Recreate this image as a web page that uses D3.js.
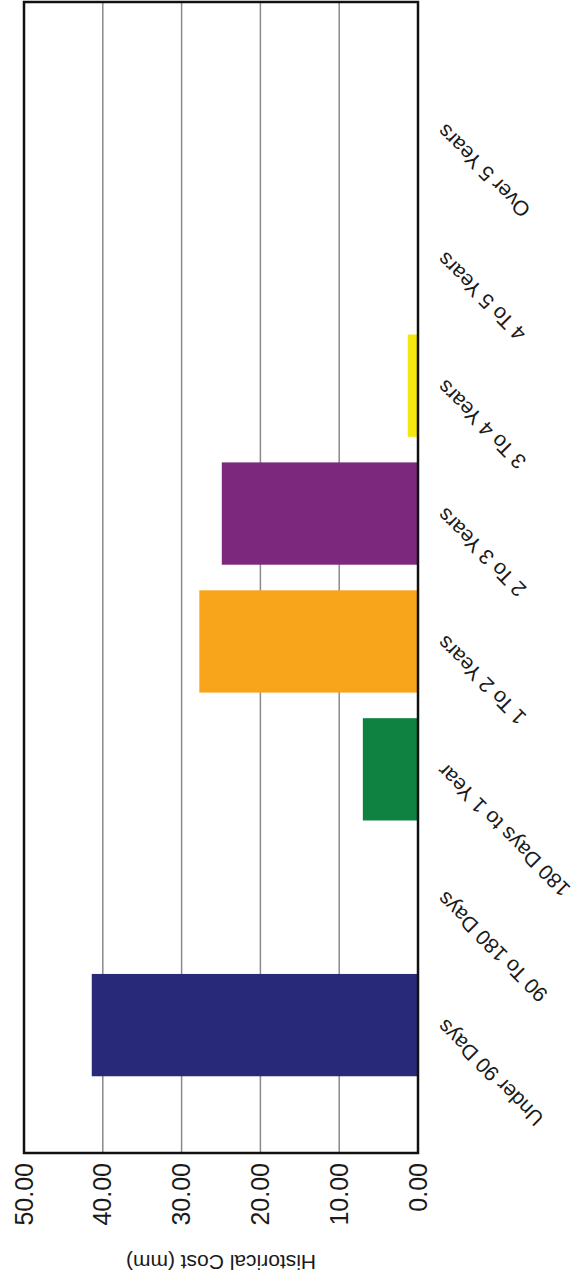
<!DOCTYPE html>
<html>
<head>
<meta charset="utf-8">
<script src="https://cdn.jsdelivr.net/npm/d3@7"></script>
<style>
  html, body { margin: 0; padding: 0; background: #fff; }
  svg { display: block; }
  text { font-family: "Liberation Sans", Arial, Helvetica, sans-serif; fill: #1a1a1a; }
</style>
</head>
<body>
<svg id="chart" width="576" height="1281"></svg>
<script>
// Aging buckets and their historical cost (mm)
const categories = [
  "Under 90 Days", "90 To 180 Days", "180 Days to 1 Year", "1 To 2 Years",
  "2 To 3 Years", "3 To 4 Years", "4 To 5 Years", "Over 5 Years"
];
const values = [41.4, 0, 7.0, 27.75, 24.9, 1.3, 0, 0];
const barColors = [
  "#29297a", "#29297a", "#0f8242", "#f8a51c",
  "#7b287d", "#f4e611", "#999999", "#999999"
];
const yTicks = [0, 10, 20, 30, 40, 50];
const axisTitle = "Historical Cost (mm)";

// The column chart is laid out in its own 1281 x 576 frame,
// then turned a quarter turn counter-clockwise onto the page.
const W = 1281, H = 576;
const margin = { top: 24, right: 2, bottom: 158, left: 128 };

const svg = d3.select("#chart");
const g = svg.append("g").attr("transform", `translate(0,${W}) rotate(-90)`);

const x = d3.scaleBand()
  .domain(categories)
  .range([margin.left, W - margin.right])
  .paddingInner(0.2)
  .paddingOuter(0.6);

const y = d3.scaleLinear()
  .domain([0, 50])
  .range([H - margin.bottom, margin.top]);

// Gridlines
g.append("g")
  .selectAll("line")
  .data(yTicks.filter(t => t > 0 && t < 50))
  .join("line")
  .attr("x1", margin.left)
  .attr("x2", W - margin.right)
  .attr("y1", d => y(d))
  .attr("y2", d => y(d))
  .attr("stroke", "#8a8a8a")
  .attr("stroke-width", 1.5);

// Bars
g.append("g")
  .selectAll("rect")
  .data(categories.map((c, i) => ({ c, v: values[i], color: barColors[i] })))
  .join("rect")
  .attr("x", d => x(d.c))
  .attr("y", d => y(d.v))
  .attr("width", x.bandwidth())
  .attr("height", d => y(0) - y(d.v))
  .attr("fill", d => d.color);

// Plot frame
g.append("rect")
  .attr("x", margin.left)
  .attr("y", margin.top)
  .attr("width", W - margin.left - margin.right)
  .attr("height", H - margin.top - margin.bottom)
  .attr("fill", "none")
  .attr("stroke", "#111")
  .attr("stroke-width", 2.5);

// Value axis
const yAxis = g.append("g")
  .attr("transform", `translate(${margin.left},0)`)
  .call(d3.axisLeft(y).tickValues(yTicks).tickFormat(d3.format(".2f")).tickSize(0).tickPadding(10));
yAxis.select(".domain").remove();
yAxis.selectAll("text")
  .style("font-size", "25px")
  .style("font-family", "\"Liberation Sans\", Arial, sans-serif")
  .attr("fill", "#1a1a1a");

// Axis title
g.append("text")
  .attr("transform", `translate(26,${(y(0) + y(50)) / 2}) rotate(-90)`)
  .attr("text-anchor", "middle")
  .style("font-size", "21px")
  .text(axisTitle);

// Category labels
g.append("g")
  .selectAll("text")
  .data(categories)
  .join("text")
  .attr("transform", d => `translate(${x(d) + x.bandwidth() / 2 + 7},${y(0) + 28}) rotate(-45)`)
  .attr("text-anchor", "end")
  .style("font-size", "21px")
  .text(d => d);
</script>
</body>
</html>
